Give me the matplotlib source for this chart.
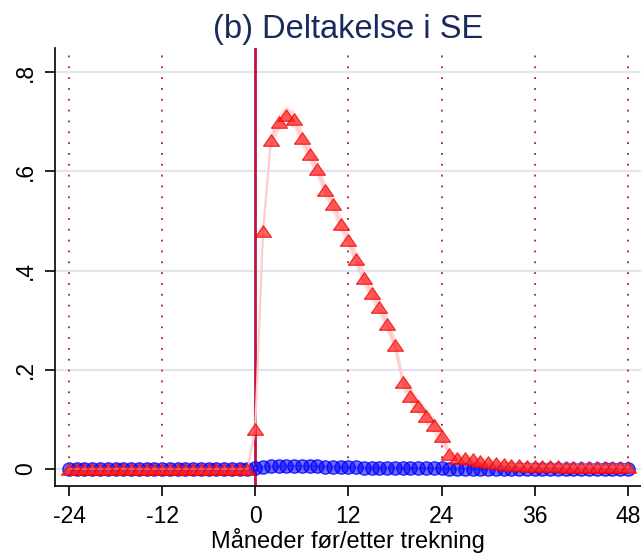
import numpy as np
import matplotlib
matplotlib.use('Agg')
import matplotlib.pyplot as plt

plt.rcParams['font.family'] = ['Liberation Sans', 'DejaVu Sans']

# months relative to draw
months = list(range(-24, 49))

# treatment group (red triangles)
red = [0.0] * 24 + [
    0.081, 0.48, 0.663, 0.70, 0.714, 0.705, 0.667, 0.635, 0.604, 0.5625,
    0.534, 0.495, 0.462, 0.423, 0.385, 0.355, 0.326, 0.292, 0.25, 0.176,
    0.147, 0.127, 0.107, 0.089, 0.0665, 0.030, 0.023, 0.0215, 0.020, 0.016,
    0.0135, 0.0115, 0.010, 0.009, 0.008, 0.007, 0.007, 0.006, 0.006, 0.006,
    0.005, 0.005, 0.005, 0.005, 0.005, 0.004, 0.004, 0.004, 0.004]
red_hw = [0.001] * 24 + [0.01] + [0.017] * 24 + [0.008] * 24

# control group (blue circles)
blue = [0.0] * 24 + [
    0.002, 0.005, 0.006, 0.006, 0.006, 0.006, 0.006, 0.006, 0.006, 0.005,
    0.005, 0.004, 0.004, 0.004, 0.003, 0.003, 0.003, 0.003, 0.003, 0.002,
    0.002, 0.002, 0.002, 0.002, 0.002] + [0.001] * 24
blue_hw = [0.001] * 24 + [0.002] * 49

xticks = [-24, -12, 0, 12, 24, 36, 48]
yticks = [0, 0.2, 0.4, 0.6, 0.8]
ylabels = ['0', '.2', '.4', '.6', '.8']

crimson = '#C0123C'
# flat triangle like the stata marker
tri = [(-1, -0.72), (1, -0.72), (0, 0.72), (-1, -0.72)]

fig = plt.figure(figsize=(6.41, 5.54), dpi=100)
ax = fig.add_axes([0.0858, 0.1227, 0.9142, 0.7907])

x = np.array(months)
r = np.array(red)
b = np.array(blue)
rh = np.array(red_hw)
bh = np.array(blue_hw)

for yv in yticks:
    ax.axhline(yv, color='#E2E4F0', lw=1.6, zorder=0)
for xv in xticks:
    if xv != 0:
        ax.axvline(xv, ymin=0.04, ymax=0.995, color=crimson, lw=1.3,
                   ls=(0, (1, 5)), zorder=1)
ax.axvline(0, color=crimson, lw=2, zorder=2)

ax.fill_between(x, b - bh, b + bh, color=(0.7, 0.7, 1.0), alpha=0.4, lw=0, zorder=3)
ax.plot(x, b, color=(0.7, 0.7, 1.0), lw=1.5, zorder=3)
ax.plot(x, b, 'o', ms=9.5, mfc=(0, 0, 1, 0.55), mec=(0, 0, 1, 0.8), mew=1.0, zorder=4)

ax.fill_between(x, r - rh, r + rh, color=(1.0, 0.72, 0.72), alpha=0.5, lw=0, zorder=5)
ax.plot(x, r, color=(1.0, 0.8, 0.8), lw=1.5, zorder=5)
ax.plot(x, r, marker=tri, ls='none', ms=11.5, mfc=(1, 0.15, 0.15, 0.72),
        mec=(0.95, 0, 0, 0.75), mew=0.9, zorder=6)

ax.set_xlim(-25.8, 49.7)
ax.set_ylim(-0.0343, 0.849)
ax.set_xticks(xticks)
ax.set_xticklabels([str(t) for t in xticks], fontsize=16.5)
ax.set_yticks(yticks)
ax.set_yticklabels(ylabels, fontsize=16.5, rotation=90, va='center')
ax.tick_params(axis='both', length=7, width=1.2, color='black')
ax.tick_params(axis='x', pad=7)
ax.tick_params(axis='y', pad=6)

for s in ['top', 'right']:
    ax.spines[s].set_visible(False)
for s in ['left', 'bottom']:
    ax.spines[s].set_linewidth(1.2)

ax.set_xlabel('Måneder før/etter trekning', fontsize=17, labelpad=0)
ax.set_title('(b) Deltakelse i SE', fontsize=23.5, color='#1B2A5C', pad=7)

fig.savefig('out.png', dpi=100)
